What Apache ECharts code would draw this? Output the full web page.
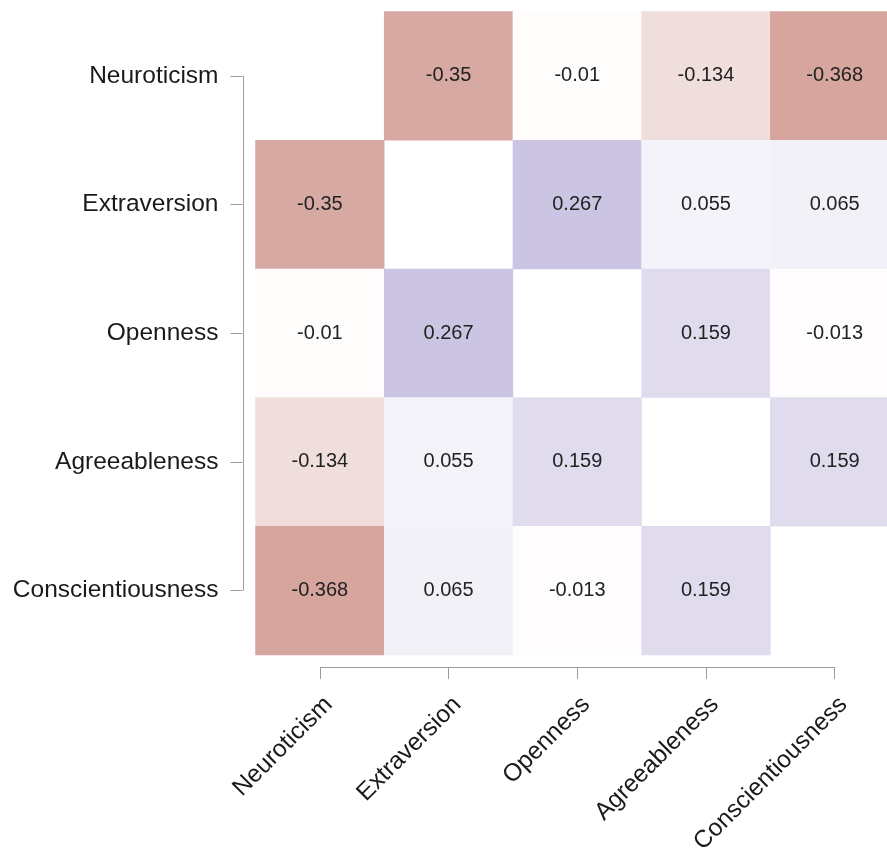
<!DOCTYPE html>
<html>
<head>
<meta charset="utf-8">
<script src="https://cdn.jsdelivr.net/npm/echarts@6/dist/echarts.min.js"></script>
<style>
  html, body { margin: 0; padding: 0; background: #ffffff; }
  #chart { width: 887px; height: 848px; }
</style>
</head>
<body>
<div id="chart"></div>
<script>
// Big Five trait correlation matrix (diagonal left empty)
const traits = ['Neuroticism', 'Extraversion', 'Openness', 'Agreeableness', 'Conscientiousness'];
const rowNeuroticism       = [null, -0.35, -0.01, -0.134, -0.368];
const rowExtraversion      = [-0.35, null, 0.267, 0.055, 0.065];
const rowOpenness          = [-0.01, 0.267, null, 0.159, -0.013];
const rowAgreeableness     = [-0.134, 0.055, 0.159, null, 0.159];
const rowConscientiousness = [-0.368, 0.065, -0.013, 0.159, null];
const matrixRows = [rowNeuroticism, rowExtraversion, rowOpenness, rowAgreeableness, rowConscientiousness];

const cells = [];
matrixRows.forEach((row, r) => {
  row.forEach((v, c) => {
    if (v !== null) cells.push([c, r, v]);
  });
});

const axisGray = '#9c9c9c';
const fontFamily = '"Liberation Sans", Arial, Helvetica, sans-serif';

const chart = echarts.init(document.getElementById('chart'), null, { renderer: 'canvas' });

const option = {
  backgroundColor: '#ffffff',
  animation: false,
  grid: {
    left: 255.5,
    top: 11.5,
    width: 643.5,
    height: 643.5,
    containLabel: false,
    outerBoundsMode: 'none'
  },
  xAxis: {
    type: 'category',
    data: traits,
    position: 'bottom',
    offset: 12,
    axisLine: { show: false },
    axisTick: { show: true, alignWithLabel: true, length: 12, lineStyle: { color: axisGray, width: 1 } },
    axisLabel: {
      rotate: 45,
      margin: 25,
      verticalAlign: 'top',
      fontSize: 24.5,
      color: '#1a1a1a',
      fontFamily: fontFamily,
      interval: 0
    },
    splitLine: { show: false },
    splitArea: { show: false }
  },
  yAxis: {
    type: 'category',
    data: traits,
    inverse: true,
    position: 'left',
    offset: 13,
    axisLine: { show: false },
    axisTick: { show: true, alignWithLabel: true, length: 12, lineStyle: { color: axisGray, width: 1 } },
    axisLabel: {
      margin: 24,
      padding: [4, 0, 0, 0],
      fontSize: 24.5,
      color: '#1a1a1a',
      fontFamily: fontFamily,
      interval: 0
    },
    splitLine: { show: false },
    splitArea: { show: false }
  },
  visualMap: {
    show: false,
    type: 'continuous',
    min: -0.4,
    max: 0.4,
    dimension: 2,
    inRange: { color: ['#d19d96', '#ffffff', '#b1a8d5'] }
  },
  series: [{
    type: 'heatmap',
    data: cells,
    itemStyle: { borderWidth: 0 },
    label: {
      show: true,
      fontSize: 20,
      color: '#222222',
      fontFamily: fontFamily,
      formatter: p => String(p.value[2])
    },
    emphasis: { disabled: true }
  }]
};

chart.setOption(option);

// Range-frame axis lines: span from the first to the last category centre
function drawFrameLines() {
  const x0 = chart.convertToPixel({ xAxisIndex: 0 }, 0);
  const x1 = chart.convertToPixel({ xAxisIndex: 0 }, 1);
  const xN = chart.convertToPixel({ xAxisIndex: 0 }, traits.length - 1);
  const y0 = chart.convertToPixel({ yAxisIndex: 0 }, 0);
  const y1 = chart.convertToPixel({ yAxisIndex: 0 }, 1);
  const yN = chart.convertToPixel({ yAxisIndex: 0 }, traits.length - 1);
  const cellW = x1 - x0;
  const cellH = y1 - y0;
  const gridLeft = x0 - cellW / 2;
  const gridBottom = yN + cellH / 2;
  const yAxisX = Math.round(gridLeft - option.yAxis.offset) + 0.5;
  const xAxisY = Math.round(gridBottom + option.xAxis.offset) + 0.5;
  chart.setOption({
    graphic: [
      {
        type: 'line',
        silent: true,
        shape: { x1: yAxisX, y1: y0, x2: yAxisX, y2: yN },
        style: { stroke: axisGray, lineWidth: 1 }
      },
      {
        type: 'line',
        silent: true,
        shape: { x1: x0, y1: xAxisY, x2: xN, y2: xAxisY },
        style: { stroke: axisGray, lineWidth: 1 }
      }
    ]
  });
}
drawFrameLines();
</script>
</body>
</html>
